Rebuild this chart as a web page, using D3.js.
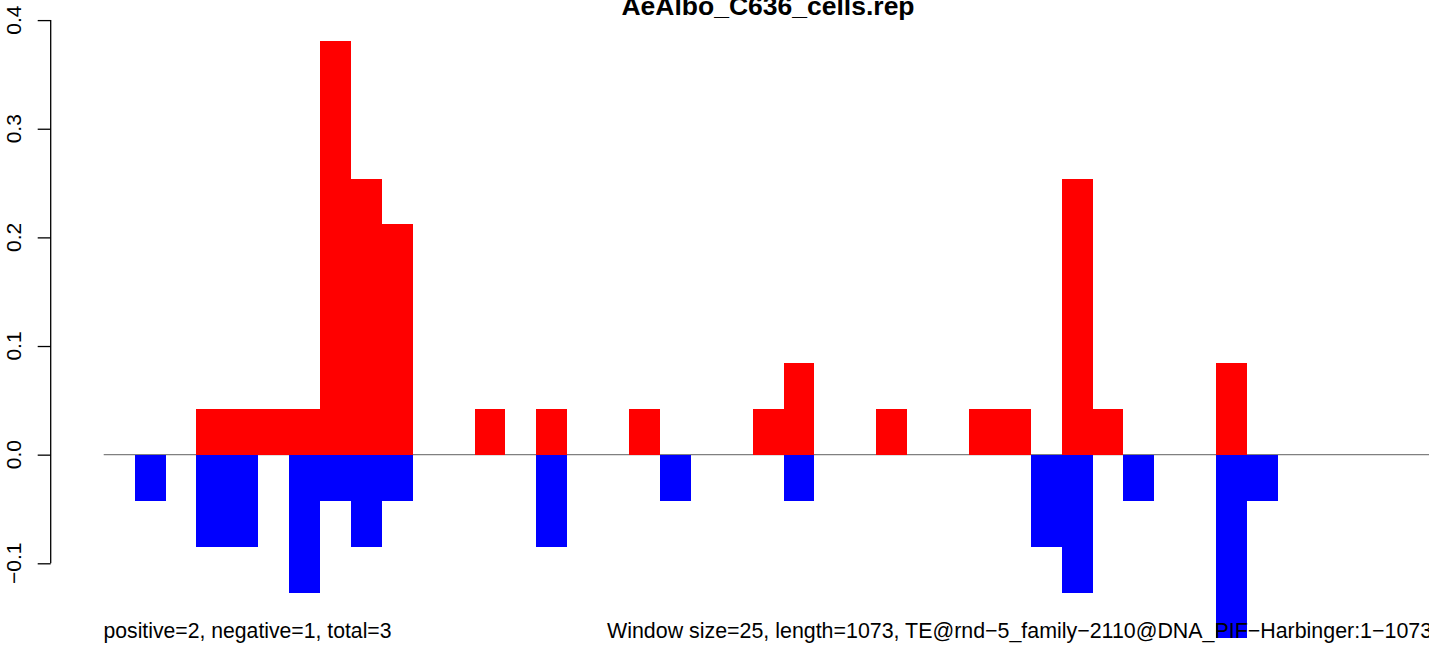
<!DOCTYPE html>
<html>
<head>
<meta charset="utf-8">
<script src="https://cdn.jsdelivr.net/npm/d3@7"></script>
<style>
  html, body { margin: 0; padding: 0; background: #fff; overflow: hidden; }
  text { font-family: "Liberation Sans", Arial, Helvetica, sans-serif; }
</style>
</head>
<body>
<svg id="chart" width="1429" height="645"></svg>
<script>
// ---- data ----
const title = "AeAlbo_C636_cells.rep";
const windowIndex = d3.range(43); // 1073 / 25 windows
const positiveValues = [0,0,0,0.0423,0.0423,0.0423,0.0423,0.381,0.254,0.212,
                        0,0,0.0423,0,0.0423,0,0,0.0423,0,0,
                        0,0.0423,0.0847,0,0,0.0423,0,0,0.0423,0.0423,
                        0,0.254,0.0423,0,0,0,0.0847,0,0,0,
                        0,0,0];
const negativeValues = [0,-0.0423,0,-0.0847,-0.0847,0,-0.127,-0.0423,-0.0847,-0.0423,
                        0,0,0,0,-0.0847,0,0,0,-0.0423,0,
                        0,0,-0.0423,0,0,0,0,0,0,0,
                        -0.0847,-0.127,0,-0.0423,0,0,-0.169,-0.0423,0,0,
                        0,0,0];
const yTicks = [-0.1, 0.0, 0.1, 0.2, 0.3, 0.4];
const yTickLabels = ["\u22120.1", "0.0", "0.1", "0.2", "0.3", "0.4"];
const leftNote = "positive=2, negative=1, total=3";
const rightNote = "Window size=25, length=1073, TE@rnd\u22125_family\u22122110@DNA_PIF\u2212Harbinger:1\u22121073";

// ---- scales ----
const svg = d3.select("#chart");
const x = d3.scaleLinear().domain([0, 43]).range([103.7, 103.7 + 43 * 30.9]);
const y = d3.scaleLinear().domain([-0.1, 0.4]).range([563.3, 20.1]);

// zero line
svg.append("line")
  .attr("x1", x(0)).attr("x2", 1500)
  .attr("y1", y(0)).attr("y2", y(0))
  .attr("stroke", "#808080").attr("stroke-width", 1.2);

// positive bars
svg.append("g").selectAll("rect")
  .data(windowIndex.filter(i => positiveValues[i] > 0))
  .join("rect")
  .attr("x", i => x(i))
  .attr("width", i => x(i + 1) - x(i))
  .attr("y", i => y(positiveValues[i]))
  .attr("height", i => y(0) - y(positiveValues[i]))
  .attr("fill", "#ff0000")
  .attr("shape-rendering", "crispEdges");

// negative bars
svg.append("g").selectAll("rect")
  .data(windowIndex.filter(i => negativeValues[i] < 0))
  .join("rect")
  .attr("x", i => x(i))
  .attr("width", i => x(i + 1) - x(i))
  .attr("y", y(0))
  .attr("height", i => y(negativeValues[i]) - y(0))
  .attr("fill", "#0000ff")
  .attr("shape-rendering", "crispEdges");

// y axis
const axisG = svg.append("g").attr("transform", "translate(50.7,0)");
const yAxis = d3.axisLeft(y).tickValues(yTicks).tickSize(13).tickFormat("");
axisG.call(yAxis);
axisG.select(".domain").attr("d", `M0,${y(0.4)}V${y(-0.1)}`).attr("stroke", "#000").attr("stroke-width", 1.3);
axisG.selectAll(".tick line").attr("stroke", "#000").attr("stroke-width", 1.3);

svg.append("g").selectAll("text")
  .data(yTicks)
  .join("text")
  .attr("transform", (d) => `translate(20.7,${y(d)}) rotate(-90)`)
  .attr("text-anchor", "middle")
  .attr("font-size", 21)
  .attr("fill", "#000")
  .text((d, i) => yTickLabels[i]);

// title (cut at the top edge, as in the reference)
svg.append("text")
  .attr("x", 768).attr("y", 15)
  .attr("text-anchor", "middle")
  .attr("font-size", 26.5)
  .attr("font-weight", "bold")
  .text(title);

// bottom notes
svg.append("text")
  .attr("x", 103.5).attr("y", 638)
  .attr("font-size", 21.2)
  .text(leftNote);
svg.append("text")
  .attr("x", 607).attr("y", 638)
  .attr("font-size", 21.4)
  .text(rightNote);
</script>
</body>
</html>
